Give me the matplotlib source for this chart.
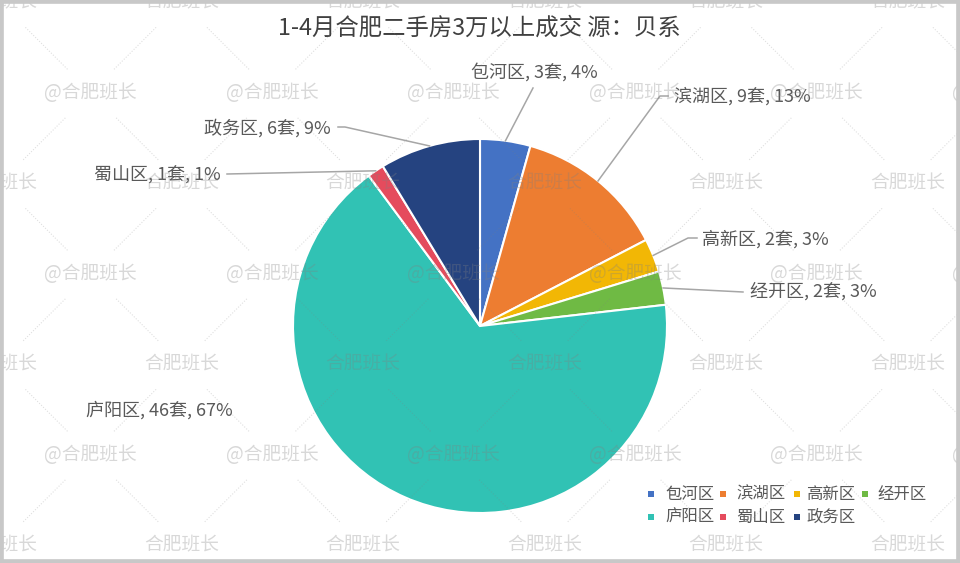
import matplotlib
matplotlib.use("Agg")
import matplotlib.pyplot as plt
from matplotlib.patches import Rectangle
import numpy as np

plt.rcParams['font.family'] = ['Noto Sans CJK SC', 'DejaVu Sans']

# ---- data ----
title = "1-4月合肥二手房3万以上成交 源：贝系"
districts = ['包河区', '滨湖区', '高新区', '经开区', '庐阳区', '蜀山区', '政务区']
counts = [3, 9, 2, 2, 46, 1, 6]
colors = ['#4472C4', '#ED7D31', '#F2B705', '#6FBA44', '#31C2B4', '#E54B5D', '#254380']
watermark_a = "@合肥班长"
watermark_b = "合肥班长"

W, H = 960, 563
fig = plt.figure(figsize=(W / 100, H / 100), dpi=100)
fig.patch.set_facecolor('white')

# pie geometry (pixels, top-left origin)
CX, CY, R = 480, 326, 187
ax = fig.add_axes([(CX - R) / W, (H - CY - R) / H, 2 * R / W, 2 * R / H])
ax.set_axis_off()

wedges, _ = ax.pie(counts, colors=colors, startangle=90, counterclock=False,
                   radius=1, wedgeprops=dict(edgecolor='white', linewidth=1.5))
ax.set_xlim(-1, 1)
ax.set_ylim(-1, 1)


def to_data(px, py):
    return (px - CX) / R, (CY - py) / R


total = sum(counts)
pcts = [round(100 * c / total) for c in counts]
labels = [f"{d}, {c}套, {p}%" for d, c, p in zip(districts, counts, pcts)]

# label layout: (text x, text y, ha, leader points after wedge edge)
layout = {
    '包河区': (534, 72, 'center', [(533, 88)]),
    '滨湖区': (674, 96, 'left', [(660, 96), (668, 96)]),
    '高新区': (702, 239, 'left', [(688, 238), (697, 238)]),
    '经开区': (750, 291, 'left', [(743, 292)]),
    '庐阳区': (159, 410, 'center', []),
    '蜀山区': (221, 175, 'right', [(227, 174)]),
    '政务区': (331, 128, 'right', [(345, 127), (338, 127)]),
}

for w, d, lab in zip(wedges, districts, labels):
    tx, ty, ha, pts = layout[d]
    if pts:
        ang = np.deg2rad((w.theta1 + w.theta2) / 2)
        xs = [np.cos(ang)] + [to_data(*p)[0] for p in pts]
        ys = [np.sin(ang)] + [to_data(*p)[1] for p in pts]
        ax.plot(xs, ys, color='#A6A6A6', lw=1.1, clip_on=False, zorder=3)
    x, y = to_data(tx, ty)
    ax.text(x, y, lab, ha=ha, va='center', fontsize=13, color='#595959',
            clip_on=False, zorder=4)

# title
fig.text(479 / W, 1 - 28 / H, title, ha='center', va='center', fontsize=16.8,
         color='#404040')

# legend (manual, row-major)
sq_x = [651, 723, 797, 865]
tx_x = [665, 736, 806, 877]
rows_y = [494, 517]
for i, (d, c) in enumerate(zip(districts, colors)):
    r, k = divmod(i, 4)
    fig.patches.append(Rectangle(((sq_x[k] - 3) / W, 1 - (rows_y[r] + 3) / H), 6 / W, 6 / H,
                                 transform=fig.transFigure, facecolor=c, edgecolor='none'))
    fig.text(tx_x[k] / W, 1 - rows_y[r] / H, d, ha='left', va='center',
             fontsize=11.8, color='#595959')

# watermark lattice
dx, dy = 181.5, 90.5
centers = []
for r in range(7):
    y = 2 + dy * r
    off = 0 if r % 2 == 0 else dx / 2
    for k in range(-1, 7):
        x = off + dx * k
        centers.append((x, y, r % 2 == 1))


def dotted(xa, ya, xb, yb):
    fig.add_artist(plt.Line2D([xa / W, xb / W], [1 - ya / H, 1 - yb / H],
                              transform=fig.transFigure, color='#808080', alpha=0.25,
                              lw=0.8, linestyle=(0, (1, 1.5)), zorder=10))


for x, y, has_at in centers:
    fig.text(x / W, 1 - y / H, watermark_a if has_at else watermark_b,
             ha='center', va='center', fontsize=13.5, color='#808080', alpha=0.3,
             zorder=10)
    t0, t1 = 0.28, 0.75
    for sgn in (-1, 1):
        x2, y2 = x + sgn * dx / 2, y + dy
        dotted(x + (x2 - x) * t0, y + (y2 - y) * t0, x + (x2 - x) * t1, y + (y2 - y) * t1)
        if y < 10:
            x0, y0 = x + sgn * dx / 2, y - dy
            dotted(x0 + (x - x0) * t0, y0 + (y - y0) * t0, x0 + (x - x0) * t1, y0 + (y - y0) * t1)

# outer frame
fig.patches.append(Rectangle((0, 0), 1, 1, transform=fig.transFigure, fill=False,
                             edgecolor='#C8C8C8', linewidth=5.5, zorder=20))

fig.savefig('out.png', dpi=100, facecolor='white')
